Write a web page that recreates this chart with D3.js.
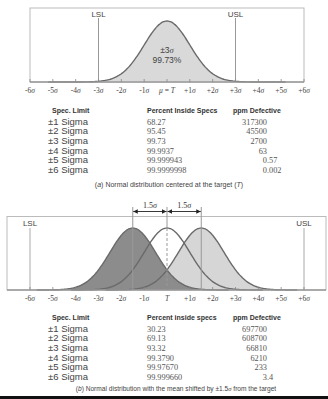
<!DOCTYPE html>
<html>
<head>
<meta charset="utf-8">
<script src="https://cdn.jsdelivr.net/npm/d3@7/dist/d3.min.js"></script>
<style>
  body { margin: 0; background: #fff; }
  svg { display: block; }
  .sans { font-family: "Liberation Sans", Arial, sans-serif; }
  .serif { font-family: "Liberation Serif", "Times New Roman", serif; }
</style>
</head>
<body>
<svg id="chart" width="328" height="399"></svg>
<script>
// sigma positions along the axis
const sigmaTicks = [-6, -5, -4, -3, -2, -1, 0, 1, 2, 3, 4, 5, 6];
const tickLabelsTop = ["-6", "-5", "-4", "-3", "-2", "-1", "μ = T", "+1", "+2", "+3", "+4", "+5", "+6"];
const tickLabelsBottom = ["-6", "-5", "-4", "-3", "-2", "-1", "T", "+1", "+2", "+3", "+4", "+5", "+6"];

// spec limits (in sigma) for each panel
const specTop = [-3, 3];
const specBottom = [-6, 6];
// means of the shifted curves in panel b
const shiftedMeans = [-1.5, 0, 1.5];

// table data
const specLimits = ["±1 Sigma", "±2 Sigma", "±3 Sigma", "±4 Sigma", "±5 Sigma", "±6 Sigma"];
const pctCentered = ["68.27", "95.45", "99.73", "99.9937", "99.999943", "99.9999998"];
const ppmCentered = ["317300", "45500", "2700", "63", "0.57", "0.002"];
const pctShifted = ["30.23", "69.13", "93.32", "99.3790", "99.97670", "99.999660"];
const ppmShifted = ["697700", "608700", "66810", "6210", "233", "3.4"];

const svg = d3.select("#chart");
const pdf = (x, m) => Math.exp(-0.5 * (x - m) * (x - m));

// shared x scale for both panels
const x = d3.scaleLinear().domain([-6, 6]).range([30, 304]);

function drawTicks(g, baseY, labels) {
    g.selectAll(".tk").data(sigmaTicks).join("line")
        .attr("x1", d => x(d)).attr("x2", d => x(d))
        .attr("y1", baseY).attr("y2", baseY - 3)
        .attr("stroke", "#888").attr("stroke-width", 0.8);
    const t = g.selectAll(".tl").data(sigmaTicks).join("text")
        .attr("class", "serif")
        .attr("x", d => x(d)).attr("y", baseY + 11)
        .attr("text-anchor", "middle")
        .attr("font-size", 7.5).attr("fill", "#444");
    t.each(function(d, i) {
        const el = d3.select(this);
        const lab = labels[i];
        if (d === 0) {
            if (lab === "T") {
                el.append("tspan").attr("font-style", "italic").text("T");
            } else {
                el.append("tspan").attr("font-style", "italic").text("μ");
                el.append("tspan").text(" = ");
                el.append("tspan").attr("font-style", "italic").text("T");
            }
        } else {
            el.append("tspan").text(lab);
            el.append("tspan").attr("font-style", "italic").text("σ");
        }
    });
}

// ---------- panel (a) ----------
const gA = svg.append("g");
const baseA = 82;
const yA = d3.scaleLinear().domain([0, 1]).range([baseA, 21]);

gA.append("rect").attr("x", x(-6)).attr("y", 8)
    .attr("width", x(6) - x(-6)).attr("height", baseA - 8)
    .attr("fill", "none").attr("stroke", "#bbb").attr("stroke-width", 1);

const ptsA = d3.range(-5.2, 5.21, 0.05);
const areaA = d3.area().x(d => x(d)).y0(baseA).y1(d => yA(pdf(d, 0))).curve(d3.curveBasis);
const lineA = d3.line().x(d => x(d)).y(d => yA(pdf(d, 0))).curve(d3.curveBasis);
gA.append("path").attr("d", areaA(ptsA)).attr("fill", "#d9d9d9");
gA.append("path").attr("d", lineA(ptsA)).attr("fill", "none")
    .attr("stroke", "#6a6a6a").attr("stroke-width", 1.4);

gA.append("line").attr("x1", x(-6)).attr("x2", x(6)).attr("y1", baseA).attr("y2", baseA)
    .attr("stroke", "#999").attr("stroke-width", 1.5);

gA.selectAll(".spec").data(specTop).join("line")
    .attr("x1", d => x(d)).attr("x2", d => x(d)).attr("y1", 18).attr("y2", baseA)
    .attr("stroke", "#999").attr("stroke-width", 1);
gA.selectAll(".specl").data(["LSL", "USL"]).join("text")
    .attr("class", "sans").attr("x", (d, i) => x(specTop[i])).attr("y", 17)
    .attr("text-anchor", "middle").attr("font-size", 8).attr("fill", "#444").text(d => d);

const mid = gA.append("text").attr("class", "sans").attr("x", x(0)).attr("y", 53)
    .attr("text-anchor", "middle").attr("font-size", 8.5).attr("fill", "#444");
mid.append("tspan").text("±3");
mid.append("tspan").attr("font-family", "Liberation Serif, serif").attr("font-style", "italic").text("σ");
gA.append("text").attr("class", "sans").attr("x", x(0)).attr("y", 63)
    .attr("text-anchor", "middle").attr("font-size", 8.5).attr("fill", "#444").text("99.73%");

drawTicks(gA, baseA, tickLabelsTop);

// ---------- table helper ----------
function drawTable(top, pct, ppm, pctHeader) {
    const g = svg.append("g");
    const header = [["Spec. Limit", 52], [pctHeader, 147], ["ppm Defective", 233]];
    g.selectAll(".h").data(header).join("text")
        .attr("class", "sans").attr("x", d => d[1]).attr("y", top)
        .attr("font-size", 7).attr("font-weight", "bold").attr("fill", "#333")
        .attr("font-stretch", "condensed")
        .text(d => d[0]);
    const rowY = i => top + 11.5 + i * 9.7;
    g.selectAll(".s").data(specLimits).join("text")
        .attr("class", "sans").attr("x", 48).attr("y", (d, i) => rowY(i))
        .attr("font-size", 9.5).attr("fill", "#444").text(d => d);
    g.selectAll(".p").data(pct).join("text")
        .attr("class", "serif").attr("x", 147).attr("y", (d, i) => rowY(i))
        .attr("font-size", 8.3).attr("fill", "#555").text(d => d);
    // ppm values aligned on the decimal point
    g.selectAll(".q").data(ppm).join("text")
        .attr("class", "serif").attr("x", 267).attr("y", (d, i) => rowY(i))
        .attr("font-size", 8.3).attr("fill", "#555").attr("text-anchor", "end")
        .text(d => d.split(".")[0]);
    g.selectAll(".qd").data(ppm.filter(d => d.includes("."))).join("text")
        .attr("class", "serif").attr("x", 267)
        .attr("y", d => rowY(ppm.indexOf(d)))
        .attr("font-size", 8.3).attr("fill", "#555")
        .text(d => "." + d.split(".")[1]);
}

drawTable(113, pctCentered, ppmCentered, "Percent Inside Specs");

const capA = svg.append("text").attr("class", "sans").attr("x", 169).attr("y", 187)
    .attr("text-anchor", "middle").attr("font-size", 7).attr("fill", "#444");
capA.append("tspan").text("(");
capA.append("tspan").attr("font-style", "italic").text("a");
capA.append("tspan").text(") Normal distribution centered at the target (");
capA.append("tspan").attr("font-style", "italic").text("T");
capA.append("tspan").text(")");

// ---------- panel (b) ----------
const gB = svg.append("g");
const baseB = 290;
const yB = d3.scaleLinear().domain([0, 1]).range([baseB, 228]);

gB.append("rect").attr("x", 7).attr("y", 216.5)
    .attr("width", 319).attr("height", baseB - 216.5)
    .attr("fill", "none").attr("stroke", "#bbb").attr("stroke-width", 1);

const fills = ["#8c8c8c", "none", "#d6d6d6"];
const order = [2, 0, 1];
order.forEach(i => {
    const m = shiftedMeans[i];
    const pts = d3.range(m - 4.2, m + 4.21, 0.05);
    const ar = d3.area().x(d => x(d)).y0(baseB).y1(d => yB(pdf(d, m))).curve(d3.curveBasis);
    if (fills[i] !== "none") gB.append("path").attr("d", ar(pts)).attr("fill", fills[i]);
});
order.forEach(i => {
    const m = shiftedMeans[i];
    const pts = d3.range(m - 4.2, m + 4.21, 0.05);
    const ln = d3.line().x(d => x(d)).y(d => yB(pdf(d, m))).curve(d3.curveBasis);
    gB.append("path").attr("d", ln(pts)).attr("fill", "none")
        .attr("stroke", "#6a6a6a").attr("stroke-width", 1.4);
});

gB.append("line").attr("x1", 7).attr("x2", 326).attr("y1", baseB).attr("y2", baseB)
    .attr("stroke", "#999").attr("stroke-width", 1.5);

// spec limits
gB.selectAll(".spec").data(specBottom).join("line")
    .attr("x1", d => x(d)).attr("x2", d => x(d)).attr("y1", 228).attr("y2", baseB)
    .attr("stroke", "#aaa").attr("stroke-width", 1);
gB.selectAll(".specl").data(["LSL", "USL"]).join("text")
    .attr("class", "sans").attr("x", (d, i) => x(specBottom[i])).attr("y", 226)
    .attr("text-anchor", "middle").attr("font-size", 8).attr("fill", "#444").text(d => d);

// shift markers
gB.selectAll(".sh").data([shiftedMeans[0], shiftedMeans[2]]).join("line")
    .attr("x1", d => x(d)).attr("x2", d => x(d)).attr("y1", 207).attr("y2", baseB)
    .attr("stroke", "#999").attr("stroke-width", 1);
gB.append("line").attr("x1", x(0)).attr("x2", x(0)).attr("y1", 207).attr("y2", 228)
    .attr("stroke", "#999").attr("stroke-width", 1);
gB.append("line").attr("x1", x(0)).attr("x2", x(0)).attr("y1", 228).attr("y2", baseB)
    .attr("stroke", "#999").attr("stroke-width", 1).attr("stroke-dasharray", "3,2");

const defs = svg.append("defs");
defs.append("marker").attr("id", "ah").attr("viewBox", "0 0 10 10")
    .attr("refX", 10).attr("refY", 5).attr("markerWidth", 5).attr("markerHeight", 5)
    .attr("orient", "auto-start-reverse")
    .append("path").attr("d", "M0,0 L10,5 L0,10 z").attr("fill", "#222");

const spans = [[shiftedMeans[0], shiftedMeans[1]], [shiftedMeans[1], shiftedMeans[2]]];
gB.selectAll(".ar").data(spans).join("line")
    .attr("x1", d => x(d[0]) + 0.5).attr("x2", d => x(d[1]) - 0.5)
    .attr("y1", 211.5).attr("y2", 211.5)
    .attr("stroke", "#222").attr("stroke-width", 0.9)
    .attr("marker-start", "url(#ah)").attr("marker-end", "url(#ah)");
gB.selectAll(".arl").data(spans).join("text")
    .attr("class", "serif").attr("x", d => (x(d[0]) + x(d[1])) / 2).attr("y", 208)
    .attr("text-anchor", "middle").attr("font-size", 8).attr("fill", "#333")
    .each(function(d) {
        const el = d3.select(this);
        el.append("tspan").text(Math.abs(d[1] - d[0]).toFixed(1));
        el.append("tspan").attr("font-style", "italic").text("σ");
    });

drawTicks(gB, baseB, tickLabelsBottom);

drawTable(320, pctShifted, ppmShifted, "Percent inside specs");

const capB = svg.append("text").attr("class", "sans").attr("x", 176).attr("y", 391)
    .attr("text-anchor", "middle").attr("font-size", 6.6).attr("fill", "#444");
capB.append("tspan").text("(");
capB.append("tspan").attr("font-style", "italic").text("b");
capB.append("tspan").text(") Normal distribution with the mean shifted by ±1.5");
capB.append("tspan").attr("font-family", "Liberation Serif, serif").attr("font-style", "italic").text("σ");
capB.append("tspan").text(" from the target");

svg.append("rect").attr("x", 0).attr("y", 396).attr("width", 328).attr("height", 3).attr("fill", "#111");
</script>
</body>
</html>
